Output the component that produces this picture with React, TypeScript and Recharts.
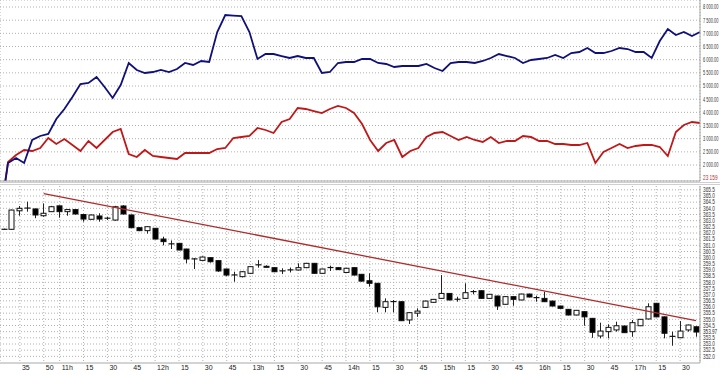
import React from 'react';
import { ComposedChart, Line, Bar, XAxis, YAxis, CartesianGrid, ReferenceLine } from 'recharts';

const times = [
  '10:25', '10:30', '10:35', '10:40', '10:45', '10:50', '10:55',
  '11:00', '11:05', '11:10', '11:15', '11:20', '11:25', '11:30', '11:35', '11:40', '11:45', '11:50', '11:55',
  '12:00', '12:05', '12:10', '12:15', '12:20', '12:25', '12:30', '12:35', '12:40', '12:45', '12:50', '12:55',
  '13:00', '13:05', '13:10', '13:15', '13:20', '13:25', '13:30', '13:35', '13:40', '13:45', '13:50', '13:55',
  '14:00', '14:05', '14:10', '14:15', '14:20', '14:25', '14:30', '14:35', '14:40', '14:45', '14:50', '14:55',
  '15:00', '15:05', '15:10', '15:15', '15:20', '15:25', '15:30', '15:35', '15:40', '15:45', '15:50', '15:55',
  '16:00', '16:05', '16:10', '16:15', '16:20', '16:25', '16:30', '16:35', '16:40', '16:45', '16:50', '16:55',
  '17:00', '17:05', '17:10', '17:15', '17:20', '17:25', '17:30', '17:35', '17:40',
];

const blueSeries = [
  0, 2077, 2267, 2077, 2950, 3102, 3178, 3747, 4127, 4583, 5076, 5114, 5342, 4962, 4545, 5038,
  5874, 5608, 5494, 5532, 5608, 5532, 5646, 5874, 5798, 5950, 5912, 7051, 7696, 7674, 7658, 7051,
  6026, 6215, 6215, 6139, 6064, 6139, 6064, 6064, 5494, 5532, 5874, 5912, 5912, 6026, 6026, 5874,
  5836, 5722, 5760, 5760, 5760, 5836, 5684, 5570, 5874, 5912, 5912, 5874, 5950, 6064, 6215, 6139,
  6064, 5874, 5988, 6026, 6064, 6177, 6064, 6253, 6291, 6443, 6253, 6253, 6329, 6443, 6405, 6291,
  6291, 6064, 6709, 7165, 6937, 7051, 6899, 7051,
];

const redSeries = [
  0, 2115, 2380, 2570, 2532, 2646, 3026, 2798, 2988, 2760, 2532, 2912, 2646, 2950, 3254, 3368,
  2418, 2304, 2570, 2342, 2304, 2267, 2229, 2456, 2456, 2456, 2456, 2608, 2646, 3026, 3064, 3102,
  3406, 3330, 3216, 3633, 3747, 4165, 4127, 4051, 3975, 4127, 4241, 4165, 3975, 3558, 2950, 2532,
  2836, 2950, 2304, 2532, 2646, 3064, 3216, 3254, 3102, 2950, 3064, 2950, 2874, 3064, 2836, 2912,
  2912, 3102, 3064, 2912, 2912, 2798, 2798, 2760, 2760, 2836, 2077, 2494, 2646, 2798, 2646, 2722,
  2760, 2760, 2684, 2342, 3254, 3519, 3633, 3595,
];

const openP = [
  362.30, 362.30, 363.80, 364.00, 363.95, 363.40, 363.73, 364.20, 363.73, 363.90, 363.50, 363.11,
  363.38, 363.19, 363.05, 364.19, 363.46, 362.43, 362.19, 362.38, 361.51, 361.10, 361.16, 360.70,
  359.89, 359.78, 360.00, 359.76, 359.08, 358.59, 358.46, 358.73, 359.40, 359.30, 359.19, 358.92,
  359.00, 359.00, 359.19, 359.54, 358.73, 359.19, 359.19, 358.80, 359.19, 358.65, 358.13, 357.92,
  355.97, 356.43, 356.43, 354.95, 355.50, 355.97, 356.38, 356.70, 357.10, 356.62, 356.70, 357.24,
  357.32, 356.70, 356.89, 356.22, 356.84, 356.57, 357.05, 356.75, 356.70, 356.48, 356.08, 355.81,
  355.35, 355.62, 355.08, 353.65, 354.00, 354.14, 354.46, 354.00, 354.48, 355.03, 356.30, 355.20,
  353.60, 353.51, 354.14, 354.40,
];

const closeP = [
  362.30, 363.86, 364.00, 364.02, 363.46, 363.60, 364.13, 363.73, 363.90, 363.54, 363.13, 363.46,
  363.13, 363.20, 364.13, 363.54, 362.43, 362.19, 362.51, 361.51, 361.30, 361.12, 360.62, 359.89,
  359.90, 360.05, 359.67, 358.92, 358.59, 358.60, 358.86, 359.27, 359.42, 359.25, 358.86, 358.93,
  359.01, 359.19, 359.54, 358.73, 359.08, 359.20, 359.03, 359.14, 358.59, 358.10, 357.92, 356.02,
  356.43, 356.44, 354.89, 355.54, 355.67, 356.48, 356.62, 357.10, 356.57, 356.63, 357.16, 357.25,
  356.70, 357.03, 356.08, 356.84, 356.62, 357.05, 356.81, 356.76, 356.43, 356.08, 355.89, 355.35,
  355.73, 355.20, 353.95, 354.05, 354.35, 354.48, 353.92, 354.73, 355.00, 356.02, 355.20, 353.87,
  353.62, 354.05, 354.54, 353.97,
];

const highP = [
  362.35, 363.90, 364.19, 364.54, 363.98, 364.40, 364.20, 364.22, 363.95, 363.92, 363.52, 363.50,
  363.60, 363.30, 364.20, 364.25, 363.50, 362.45, 362.55, 362.40, 361.70, 361.40, 361.20, 360.72,
  359.95, 360.10, 360.02, 359.78, 359.10, 358.86, 358.90, 359.30, 359.80, 359.38, 359.22, 359.14,
  359.20, 359.54, 359.58, 359.57, 359.10, 359.35, 359.22, 359.17, 359.22, 358.68, 358.73, 357.95,
  356.70, 356.57, 356.46, 355.57, 355.89, 356.52, 356.65, 358.59, 357.13, 356.83, 357.92, 357.38,
  357.35, 357.06, 356.92, 356.87, 356.87, 357.08, 357.08, 356.92, 357.24, 356.51, 356.10, 355.84,
  355.76, 355.65, 355.11, 354.73, 354.59, 354.81, 354.49, 354.94, 355.03, 356.30, 356.33, 355.23,
  354.00, 354.86, 354.57, 354.43,
];

const lowP = [
  362.28, 362.25, 363.40, 363.73, 363.20, 363.32, 363.70, 363.24, 363.40, 363.50, 362.92, 363.08,
  362.92, 363.05, 363.00, 363.50, 362.40, 362.15, 361.95, 361.48, 361.00, 360.70, 360.60, 359.54,
  359.08, 359.75, 359.60, 358.85, 358.50, 358.05, 358.40, 358.70, 359.19, 359.20, 358.83, 358.67,
  358.80, 358.97, 359.15, 358.70, 358.70, 358.92, 359.00, 358.77, 358.56, 358.05, 357.65, 355.57,
  355.57, 355.57, 354.86, 354.62, 355.20, 355.94, 356.35, 356.67, 356.54, 356.43, 356.67, 357.03,
  356.67, 356.67, 355.76, 356.19, 356.10, 356.54, 356.78, 356.43, 356.40, 356.05, 355.86, 355.32,
  355.32, 354.48, 353.50, 353.46, 353.46, 354.00, 353.89, 353.59, 354.45, 355.00, 355.17, 353.46,
  352.86, 353.48, 354.00, 353.59,
];

const tickTimes = [
  '10:35', '10:50', '11:00', '11:15', '11:30', '11:45', '12:00', '12:15', '12:30', '12:45',
  '13:00', '13:15', '13:30', '13:45', '14:00', '14:15', '14:30', '14:45', '15:00', '15:15',
  '15:30', '15:45', '16:00', '16:15', '16:30', '16:45', '17:00', '17:15', '17:30',
];
const tickLabels = [
  '35', '50', '11h', '15', '30', '45', '12h', '15', '30', '45',
  '13h', '15', '30', '45', '14h', '15', '30', '45', '15h', '15',
  '30', '45', '16h', '15', '30', '45', '17h', '15', '30',
];

const topTicks = [2000, 2500, 3000, 3500, 4000, 4500, 5000, 5500, 6000, 6500, 7000, 7500, 8000];
const priceGrid = [
  352.0, 352.5, 353.0, 353.5, 354.0, 354.5, 355.0, 355.5, 356.0, 356.5, 357.0, 357.5, 358.0, 358.5,
  359.0, 359.5, 360.0, 360.5, 361.0, 361.5, 362.0, 362.5, 363.0, 363.5, 364.0, 364.5, 365.0, 365.5,
];
const priceTicks = priceGrid.filter((v) => v !== 354.0);
const lastPrice = 353.97;
const lastPriceLabel = '353.97';
const sideValue = 1507;
const sideLabel = '23 159';
const trendPoints = [
  { x: '10:50', y: 365.2 },
  { x: '17:40', y: 354.9 },
];

const rows = times.map((t, i) => ({
  time: t,
  blue: blueSeries[i],
  red: redSeries[i],
  open: openP[i],
  close: closeP[i],
  high: highP[i],
  low: lowP[i],
}));

const FONT = '"Liberation Sans", Arial, sans-serif';

const fmtTop = (v: number) => {
  const th = Math.floor(v / 1000);
  const rest = String(v % 1000).padStart(3, '0');
  return `${th} ${rest}.00`;
};

const Candle = (props: any) => {
  const { x, y, width, height, payload } = props;
  if (!payload || x == null || y == null) return null;
  const { open, close, high, low } = payload;
  const yTop = height < 0 ? y + height : y;
  const h = Math.abs(height);
  const span = high - low;
  const k = span > 0 ? h / span : 0;
  const py = (v: number) => yTop + (high - v) * k;
  const cx = Math.round(x + width / 2) + 0.5;
  const bTop = py(Math.max(open, close));
  const bBot = py(Math.min(open, close));
  const up = close >= open;
  const doji = Math.abs(close - open) < 0.03;
  return (
    <g>
      <line x1={cx} x2={cx} y1={yTop} y2={yTop + h} stroke="#222" strokeWidth={1} />
      {doji ? (
        <line x1={cx - 3} x2={cx + 3} y1={bTop} y2={bTop} stroke="#111" strokeWidth={1.2} />
      ) : (
        <rect
          x={cx - 2.5}
          y={bTop}
          width={5}
          height={Math.max(bBot - bTop, 1)}
          fill={up ? '#ffffff' : '#000000'}
          stroke="#111"
          strokeWidth={1}
        />
      )}
    </g>
  );
};

const TimeTick = (props: any) => {
  const { x, y, payload } = props;
  const idx = tickTimes.indexOf(payload.value);
  return (
    <text x={x + 2} y={y + 7} fontSize={7} fill="#222" fontFamily={FONT}>
      {idx >= 0 ? tickLabels[idx] : ''}
    </text>
  );
};

const SqueezedText = ({ x, y, sx, fill, children }: any) => (
  <text
    transform={`translate(${x},${y}) scale(${sx},1)`}
    x={0}
    y={0}
    fontSize={7}
    fill={fill}
    fontFamily={FONT}
  >
    {children}
  </text>
);

const TopTick = (props: any) => {
  const { x, y, payload } = props;
  return (
    <SqueezedText x={x} y={y + 2.4} sx={0.57} fill="#333">
      {fmtTop(payload.value)}
    </SqueezedText>
  );
};

const PriceTick = (props: any) => {
  const { x, y, payload } = props;
  return (
    <SqueezedText x={x} y={y + 2.3} sx={0.68} fill="#333">
      {payload.value.toFixed(1)}
    </SqueezedText>
  );
};

const SideLabel = (props: any) => {
  const vb = props.viewBox || {};
  return (
    <SqueezedText x={(vb.x || 0) + (vb.width || 0) + 3} y={(vb.y || 0) + 2.4} sx={0.68} fill="#b03030">
      {sideLabel}
    </SqueezedText>
  );
};

const LastLabel = (props: any) => {
  const vb = props.viewBox || {};
  return (
    <SqueezedText x={(vb.x || 0) + (vb.width || 0) + 3} y={(vb.y || 0) + 2.3} sx={0.66} fill="#222">
      {lastPriceLabel}
    </SqueezedText>
  );
};

export default function App() {
  return (
    <div style={{ position: 'absolute', left: 0, top: 0, width: 720, height: 375, background: '#fff' }}>
      <div style={{ position: 'absolute', left: 0, top: 0 }}>
        <ComposedChart width={720} height={182} data={rows} margin={{ top: 0, right: 0, left: 0, bottom: 0 }}>
          <CartesianGrid stroke="#b0b0b0" strokeDasharray="1 2" />
          <XAxis
            dataKey="time"
            ticks={tickTimes}
            interval={0}
            tick={false}
            tickLine={false}
            axisLine={{ stroke: '#a8a8a8' }}
            height={1}
          />
          <YAxis
            orientation="right"
            domain={[1393, 8266]}
            ticks={topTicks}
            interval={0}
            allowDataOverflow
            width={20}
            tickLine={false}
            tickSize={0}
            tickMargin={3}
            axisLine={{ stroke: '#a8a8a8' }}
            tick={<TopTick />}
          />
          <ReferenceLine y={sideValue} stroke="none" label={<SideLabel />} />
          <Line dataKey="red" stroke="#c01818" strokeWidth={1.8} dot={false} isAnimationActive={false} />
          <Line dataKey="blue" stroke="#10107a" strokeWidth={1.8} dot={false} isAnimationActive={false} />
        </ComposedChart>
      </div>
      <div style={{ position: 'absolute', left: 0, top: 182, width: 720, height: 1, background: '#cfcfcf' }} />
      <div style={{ position: 'absolute', left: 0, top: 184, width: 720, height: 1, background: '#cfcfcf' }} />
      <div style={{ position: 'absolute', left: 0, top: 184 }}>
        <ComposedChart width={720} height={191} data={rows} margin={{ top: 2, right: 0, left: 0, bottom: 0 }}>
          <CartesianGrid stroke="#b0b0b0" strokeDasharray="1 2" horizontalValues={priceGrid} />
          <XAxis
            dataKey="time"
            ticks={tickTimes}
            interval={0}
            tickLine={false}
            tickSize={0}
            tickMargin={0}
            axisLine={{ stroke: '#a8a8a8' }}
            height={12}
            tick={<TimeTick />}
          />
          <YAxis
            orientation="right"
            domain={[351.46, 365.81]}
            ticks={priceTicks}
            interval={0}
            allowDataOverflow
            width={20}
            tickLine={false}
            tickSize={0}
            tickMargin={3}
            axisLine={{ stroke: '#a8a8a8' }}
            tick={<PriceTick />}
          />
          <Bar
            dataKey={(d: any) => [d.low, d.high]}
            barSize={5}
            shape={<Candle />}
            isAnimationActive={false}
          />
          <ReferenceLine segment={trendPoints} stroke="#b02a2a" strokeWidth={1.3} />
          <ReferenceLine y={lastPrice} stroke="none" label={<LastLabel />} />
        </ComposedChart>
      </div>
    </div>
  );
}
